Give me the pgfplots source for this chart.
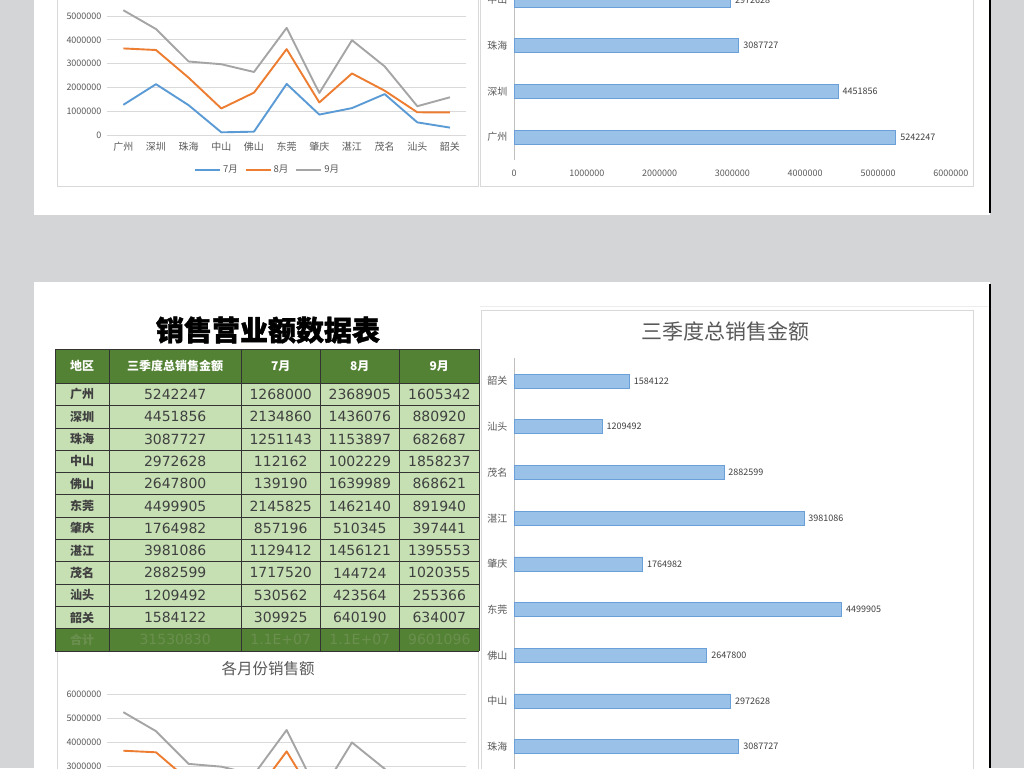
\documentclass[border=0pt]{standalone}
\usepackage{fontspec}
\setmainfont{Noto Sans CJK SC}
\newfontfamily\numfont{DejaVu Sans}
\newfontfamily\titlefont{Noto Sans CJK SC}[BoldFeatures={FakeBold=1.5}]
\usepackage{pgfplots}
\usepackage{pgfplotstable}
\pgfplotsset{compat=1.18}

\definecolor{bgg}{HTML}{D4D5D7}
\definecolor{c7}{HTML}{5B9BD5}
\definecolor{c8}{HTML}{ED7D31}
\definecolor{c9}{HTML}{A5A5A5}
\definecolor{gridc}{HTML}{D9D9D9}
\definecolor{tgray}{HTML}{595959}
\definecolor{dgray}{HTML}{404040}
\definecolor{barf}{HTML}{9AC1E8}
\definecolor{bard}{HTML}{6A9FD8}
\definecolor{hdr}{HTML}{548235}
\definecolor{rowc}{HTML}{C6E0B4}
\definecolor{totc}{HTML}{6A8F4E}
\definecolor{framec}{HTML}{D9D9D9}
\definecolor{axc}{HTML}{BFBFBF}
\definecolor{tline}{HTML}{333333}

\pgfplotstableread{
idx m7 m8 m9
0 1268000 2368905 1605342
1 2134860 1436076 880920
2 1251143 1153897 682687
3 112162 1002229 1858237
4 139190 1639989 868621
5 2145825 1462140 891940
6 857196 510345 397441
7 1129412 1456121 1395553
8 1717520 144724 1020355
9 530562 423564 255366
10 309925 640190 634007
}\monthly

\pgfplotstableread{
idx total
0 5242247
1 4451856
2 3087727
3 2972628
4 2647800
5 4499905
6 1764982
7 3981086
8 2882599
9 1209492
10 1584122
}\totals

\pgfplotsset{
  linechart/.style={
    scale only axis, width=359.3pt,
    xmin=-0.5, xmax=10.5, ymin=0, ymax=6000000,
    scaled x ticks=false, scaled y ticks=false,
    xtick={0,1,2,3,4,5,6,7,8,9,10},
    xticklabels={广州,深圳,珠海,中山,佛山,东莞,肇庆,湛江,茂名,汕头,韶关},
    ytick={0,1000000,2000000,3000000,4000000,5000000,6000000},
    yticklabels={0,1000000,2000000,3000000,4000000,5000000,6000000},
    ymajorgrids, grid style={gridc, line width=0.8pt},
    axis line style={draw=none}, major tick length=0pt,
    xticklabel style={font=\fontsize{10}{12}\selectfont, text=tgray, yshift=-4pt},
    yticklabel style={font=\fontsize{9}{11}\selectfont, text=tgray, xshift=-2pt},
    stack plots=y,
  },
  barchart/.style={
    scale only axis, width=436.8pt, height=502.7pt,
    xmin=0, xmax=6000000, ymin=-0.5, ymax=10.5,
    scaled x ticks=false, scaled y ticks=false,
    xtick={0,1000000,2000000,3000000,4000000,5000000,6000000},
    xticklabels={0,1000000,2000000,3000000,4000000,5000000,6000000},
    ytick={0,1,2,3,4,5,6,7,8,9,10},
    yticklabels={广州,深圳,珠海,中山,佛山,东莞,肇庆,湛江,茂名,汕头,韶关},
    axis line style={draw=none}, major tick length=0pt,
    xticklabel style={font=\fontsize{9}{11}\selectfont, text=tgray, yshift=-7pt},
    yticklabel style={font=\fontsize{10}{12}\selectfont, text=tgray, xshift=-3pt},
    clip=false,
  },
  lineplot/.style={no markers, line width=1.9pt, line join=round},
}

\newcommand{\barplot}{%
  \draw[axc, line width=1pt] (axis cs:0,-0.5) -- (axis cs:0,10.5);
  \addplot[xbar, bar width=14pt, fill=barf, draw=bard, line width=0.6pt,
    point meta=explicit symbolic, nodes near coords,
    nodes near coords style={font=\fontsize{9}{11}\selectfont, text=dgray, anchor=west, xshift=1pt}]
    table[x=total, y=idx, meta=total] {\totals};
}

\begin{document}
\begin{tikzpicture}[x=1pt,y=1pt]
\path[use as bounding box] (0,0) rectangle (1024,768);
\clip (0,0) rectangle (1024,768);
% background and panels
\fill[bgg] (0,0) rectangle (1024,768);
\fill[white] (34,553) rectangle (990,768);
\fill[white] (34,0) rectangle (990,486);
\draw[black, line width=1.6pt] (990,555) -- (990,768);
\draw[black, line width=1.6pt] (990,0) -- (990,484);
\draw[gray!15, line width=0.8pt] (480,462) -- (988,462);

% chart boxes
\draw[framec, line width=0.8pt] (57,581.5) rectangle (478,775);
\draw[framec, line width=0.8pt] (480,581.5) rectangle (973.5,775);
\draw[framec, line width=0.8pt] (57,-5) rectangle (478,116.3);
\draw[framec, line width=0.8pt] (481,-5) rectangle (973,457.3);

% ---- Chart A (top line chart)
\begin{scope}
\clip (57,581.5) rectangle (478,768);
\begin{axis}[linechart, height=142.8pt, at={(107pt,633pt)}, anchor=south west,
  legend style={at={(0.447,-0.245)}, anchor=center, draw=none, fill=none,
    legend columns=3, font=\fontsize{9.5}{11}\selectfont, text=tgray,
    /tikz/every even column/.append style={column sep=5pt}},
  legend image code/.code={\draw[#1] (0pt,0pt) -- (25pt,0pt);}]
\addplot[lineplot, c7] table[x=idx, y=m7] {\monthly};
\addplot[lineplot, c8] table[x=idx, y=m8] {\monthly};
\addplot[lineplot, c9] table[x=idx, y=m9] {\monthly};
\legend{7月,8月,9月}
\end{axis}
\end{scope}

% ---- Chart C (top bar chart)
\begin{scope}
\clip (480,581.5) rectangle (973.5,768);
\begin{axis}[barchart, at={(514pt,608.1pt)}, anchor=south west]
\barplot
\end{axis}
\end{scope}

% ---- Chart B (bottom line chart)
\node[text=tgray] at (268,99) {\fontsize{15.5}{17}\selectfont 各月份销售额};
\begin{scope}
\clip (57,0) rectangle (478,116.3);
\begin{axis}[linechart, height=144pt, at={(107pt,-70pt)}, anchor=south west]
\addplot[lineplot, c7] table[x=idx, y=m7] {\monthly};
\addplot[lineplot, c8] table[x=idx, y=m8] {\monthly};
\addplot[lineplot, c9] table[x=idx, y=m9] {\monthly};
\end{axis}
\end{scope}

% ---- Chart D (bottom bar chart)
\node[text=tgray] at (725.5,436.5) {\fontsize{21}{24}\selectfont 三季度总销售金额};
\begin{scope}
\clip (481,0) rectangle (973,457.3);
\begin{axis}[barchart, at={(514pt,-92.9pt)}, anchor=south west]
\barplot
\end{axis}
\end{scope}

% ---- Table
\node at (268,438) {\titlefont\bfseries\fontsize{28}{30}\selectfont 销售营业额数据表};
\fill[hdr] (55,419) rectangle (479.3,384.7);
\fill[rowc] (55,384.7) rectangle (479.3,139.1);
\fill[hdr] (55,139.1) rectangle (479.3,117.1);
\foreach \k in {0,...,12} {
  \draw[tline, line width=0.7pt] (55,384.7-22.3*\k) -- (479.3,384.7-22.3*\k);
}
\draw[tline, line width=0.7pt] (55,419) -- (479.3,419);
\foreach \xx in {55,109.3,241,320.3,399.3,479.3} {
  \draw[tline, line width=0.7pt] (\xx,419) -- (\xx,117.1);
}
\begin{scope}[every node/.style={text=white, font=\bfseries\fontsize{12}{14}\selectfont}]
\node at (82.2,401.8) {地区};
\node at (175.2,401.8) {三季度总销售金额};
\node at (280.7,401.8) {7月};
\node at (359.8,401.8) {8月};
\node at (439.3,401.8) {9月};
\end{scope}
\foreach \n/\t/\a/\b/\c [count=\i from 0] in {
  广州/5242247/1268000/2368905/1605342,
  深圳/4451856/2134860/1436076/880920,
  珠海/3087727/1251143/1153897/682687,
  中山/2972628/112162/1002229/1858237,
  佛山/2647800/139190/1639989/868621,
  东莞/4499905/2145825/1462140/891940,
  肇庆/1764982/857196/510345/397441,
  湛江/3981086/1129412/1456121/1395553,
  茂名/2882599/1717520/144724/1020355,
  汕头/1209492/530562/423564/255366,
  韶关/1584122/309925/640190/634007} {
  \pgfmathsetmacro\yy{384.7-22.3*\i-11.15}
  \node[text=dgray, font=\bfseries\fontsize{12}{14}\selectfont] at (82.2,\yy) {\n};
  \node[text=dgray, font=\numfont\fontsize{14}{16}\selectfont] at (175.2,\yy) {\t};
  \node[text=dgray, font=\numfont\fontsize{14}{16}\selectfont] at (280.7,\yy) {\a};
  \node[text=dgray, font=\numfont\fontsize{14}{16}\selectfont] at (359.8,\yy) {\b};
  \node[text=dgray, font=\numfont\fontsize{14}{16}\selectfont] at (439.3,\yy) {\c};
}
\begin{scope}[every node/.style={text=totc, font=\numfont\fontsize{14}{16}\selectfont}]
\node[font=\bfseries\fontsize{12}{14}\selectfont] at (82.2,128.1) {合计};
\node at (175.2,128.1) {31530830};
\node at (280.7,128.1) {1.1E+07};
\node at (359.8,128.1) {1.1E+07};
\node at (439.3,128.1) {9601096};
\end{scope}
\end{tikzpicture}
\end{document}
